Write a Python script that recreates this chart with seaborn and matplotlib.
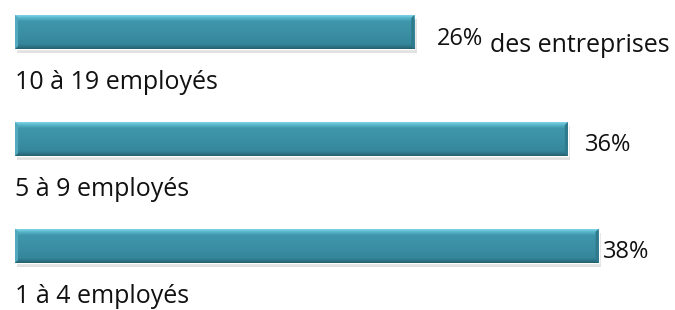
import seaborn as sns
import matplotlib.pyplot as plt
import numpy as np
import pandas as pd

# donnees
categories = ['10 à 19 employés', '5 à 9 employés', '1 à 4 employés']
valeurs = [26, 36, 38]
etiquettes = ['26%', '36%', '38%']
note = 'des entreprises'

df = pd.DataFrame({'cat': categories, 'val': valeurs})

sns.set_style('white')
plt.rcParams['font.family'] = ['Open Sans', 'DejaVu Sans']

fig = plt.figure(figsize=(6.75, 3.1), dpi=100)
ax = fig.add_axes([0, 0, 1, 1])

sns.barplot(data=df, y='cat', x='val', orient='h', color='#3a8fa3',
            width=0.32, saturation=1, ax=ax)

px = 15.36  # pixels par %
ax.set_xlim(-15 / px, (675 - 15) / px)
ax.set_ylim(2.6, -0.3)

# degrade sur chaque barre
grad = np.linspace(0, 1, 100).reshape(-1, 1)
cmap = plt.matplotlib.colors.LinearSegmentedColormap.from_list(
    'b', [(0, '#8fdcee'), (0.1, '#5ab8cd'), (0.2, '#3f96aa'), (0.6, '#3a8ea3'),
          (0.85, '#35879b'), (0.93, '#2d7587'), (1, '#25616f')])
for p in ax.patches:
    x0, y0 = p.get_x(), p.get_y()
    w, h = p.get_width(), p.get_height()
    # ombre
    ax.add_patch(plt.Rectangle((x0 + 0.15, y0 + 0.04), w, h, color='#d0d0d0',
                               alpha=0.6, zorder=1, lw=0))
    im = ax.imshow(grad, extent=(x0, x0 + w, y0 + h, y0), aspect='auto',
                   cmap=cmap, zorder=3)
    im.set_clip_path(p)
    p.set_zorder(2)
    # biseau aux extremites
    bx = 0.09 * h * 107 / px
    ax.add_patch(plt.Polygon([(x0, y0), (x0 + bx, y0 + 0.09 * h), (x0 + bx, y0 + 0.91 * h), (x0, y0 + h)],
                             color='#52a9bd', lw=0, zorder=4))
    ax.add_patch(plt.Polygon([(x0 + w, y0), (x0 + w - bx, y0 + 0.09 * h), (x0 + w - bx, y0 + 0.91 * h), (x0 + w, y0 + h)],
                             color='#2f7a8c', lw=0, zorder=4))

decal = [1.45, 1.1, 0.3]
for i, (c, v, t) in enumerate(zip(categories, valeurs, etiquettes)):
    ax.text(0, i + 0.53, c, fontsize=18, va='baseline', ha='left', color='#111111')
    ax.text(v + decal[i], i + 0.117, t, fontsize=17, va='baseline', ha='left', color='#111111')

ax.text(valeurs[0] + 4.9, 0.19, note, fontsize=18, va='baseline',
        ha='left', color='#111111')

ax.set_axis_off()
plt.savefig('out.png', dpi=100)
plt.close()
